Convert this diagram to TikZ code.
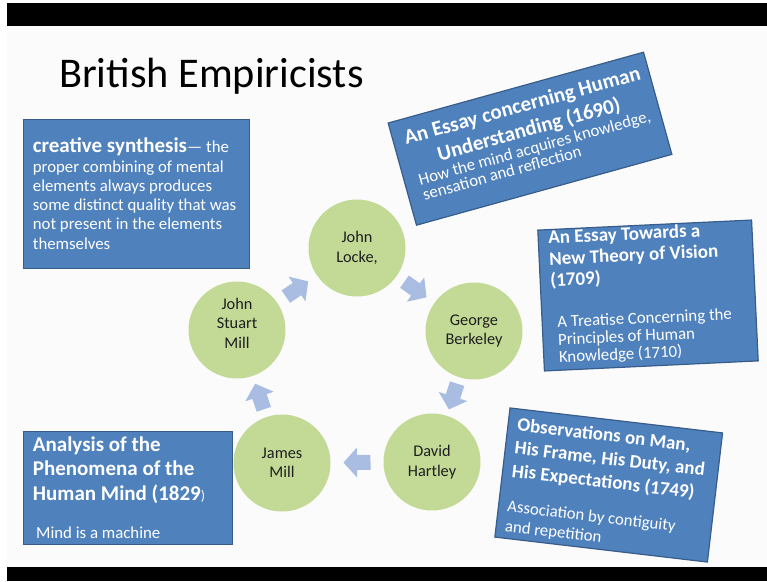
\documentclass[tikz,border=0pt]{standalone}
\usepackage{fontspec}
\setmainfont{Carlito}
\definecolor{slidebg}{HTML}{FBFBFB}
\definecolor{boxblue}{HTML}{4F81BD}
\definecolor{boxedge}{HTML}{385D8A}
\definecolor{circgreen}{HTML}{C3DA96}
\definecolor{arrowblue}{HTML}{A8BDE1}
\definecolor{circtext}{HTML}{1E1E1E}
\newcommand{\txtreg}[1]{\fontsize{16.8}{#1}\selectfont\lineskiplimit=-50pt\relax}
\newcommand{\txtbold}[2]{\fontsize{#1}{#2}\selectfont\bfseries\lineskiplimit=-50pt\relax}
\tikzset{
  infobox/.style={draw=boxedge, line width=1.2pt, fill=boxblue, inner sep=0pt, rectangle},
  boxtext/.style={text=white, inner sep=0pt, align=flush left},
  person/.style={circle, fill=circgreen, minimum size=97pt, inner sep=0pt, align=center, text=circtext, font=\fontsize{16.3}{19.5}\selectfont},
  persontext/.style={inner sep=0pt, align=center, text=circtext, font=\fontsize{16.3}{19.5}\selectfont},
  blockarr/.pic={\fill[arrowblue] (-13.5,-7.5) -- (0,-7.5) -- (0,-15) -- (13.5,0) -- (0,15) -- (0,7.5) -- (-13.5,7.5) -- cycle;},
}
\begin{document}
\begin{tikzpicture}[x=1pt,y=-1pt]
\useasboundingbox (0,0) rectangle (767,581);
\fill[white] (0,0) rectangle (767,581);
\fill[black] (7,3) rectangle (767,26);
\fill[slidebg] (7,26) rectangle (767,567);
\fill[black] (7,567) rectangle (767,581);

\node[anchor=base west, inner sep=0pt, font=\fontsize{42.3}{44}\selectfont] (title) at (59,87.5) {British Empiricists};

% creative synthesis box
\node[infobox, minimum width=226pt, minimum height=149pt, anchor=north west] (synth) at (23,119) {};
\node[boxtext, text width=220pt, anchor=base west, font=\txtreg{19.3}] (synthtext) at (32.7,152.7)
  {{\txtbold{21}{19.3}creative synthesis}— the\\
   proper combining of mental\\
   elements always produces\\
   some distinct quality that was\\
   not present in the elements\\
   themselves};

% analysis box
\node[infobox, minimum width=209pt, minimum height=113pt, anchor=north west] (analysis) at (23,431) {};
\node[boxtext, text width=205pt, anchor=base west, font=\txtbold{21}{24.5}] (analysishead) at (32.7,451)
  {Analysis of the\\
   Phenomena of the\\
   Human Mind (1829{\mdseries\fontsize{14}{24.5}\selectfont )}};
\node[boxtext, text width=190pt, anchor=base west, font=\txtreg{19}] (analysissub) at (36,538)
  {Mind is a machine};

% Locke essay box
\begin{scope}[shift={(530,138.7)}, rotate=15.5, transform shape]
\node[infobox, minimum width=265pt, minimum height=106pt] (lockebox) at (0,0) {};
\node[boxtext, text width=262pt, align=flush center, anchor=base, font=\txtbold{21}{24.8}] (lockehead) at (1.3,-27.3)
  {An Essay concerning Human\\ Understanding (1690)};
\node[boxtext, text width=250pt, anchor=base west, font=\txtreg{15.8}] (lockesub) at (-118.2,15.5)
  {How the mind acquires knowledge,\\ sensation and reflection};
\end{scope}

% Berkeley box
\begin{scope}[shift={(648,295.5)}, rotate=2.7, transform shape]
\node[infobox, minimum width=214pt, minimum height=141pt] (berkbox) at (0,0) {};
\node[boxtext, text width=200pt, anchor=base west, font=\txtbold{19}{21.2}] (berkhead) at (-97,-56.2)
  {An Essay Towards a\\ New Theory of Vision\\ (1709)};
\node[boxtext, text width=200pt, anchor=base west, font=\txtreg{17.5}] (berksub) at (-92,27.8)
  {A Treatise Concerning the\\ Principles of Human\\ Knowledge (1710)};
\end{scope}

% Hartley box
\begin{scope}[shift={(608.7,485)}, rotate=-6.7, transform shape]
\node[infobox, minimum width=214pt, minimum height=130pt] (hartbox) at (0,0) {};
\node[boxtext, text width=205pt, anchor=base west, font=\txtbold{19}{23.3}] (harthead) at (-97.7,-43.2)
  {Observations on Man,\\ His Frame, His Duty, and\\ His Expectations (1749)};
\node[boxtext, text width=205pt, anchor=base west, font=\txtreg{20}] (hartsub) at (-98.2,38.4)
  {Association by contiguity\\ and repetition};
\end{scope}

% cycle
\node[person] (locke) at (357,248) {John\\Locke,};
\node[person] (berkeley) at (474,331) {George\\Berkeley};
\node[person] (hartley) at (432,462) {David\\Hartley};
\node[person] (jmill) at (282,463) {James\\Mill};
\node[person] (jsmill) at (237,330) {};
\node[persontext] (jsmilltext) at (237,323) {John\\Stuart\\Mill};

\path (jsmill) -- (locke) pic[pos=0.5, sloped, allow upside down] {blockarr};
\path (locke) -- (berkeley) pic[pos=0.5, sloped, allow upside down] {blockarr};
\path (berkeley) -- (hartley) pic[pos=0.5, sloped, allow upside down] {blockarr};
\path (hartley) -- (jmill) pic[pos=0.5, sloped, allow upside down] {blockarr};
\path (jmill) -- (jsmill) pic[pos=0.5, sloped, allow upside down] {blockarr};
\end{tikzpicture}
\end{document}
